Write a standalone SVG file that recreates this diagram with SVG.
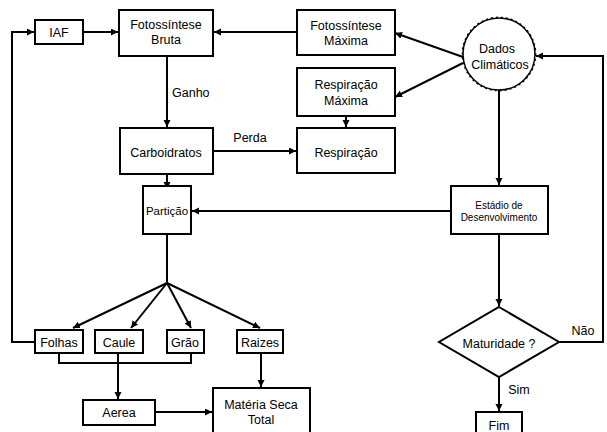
<svg xmlns="http://www.w3.org/2000/svg" width="607" height="432" viewBox="0 0 607 432">
<style>
.b{fill:#fff;stroke:#000;stroke-width:2}
.l{fill:none;stroke:#000;stroke-width:2}
.t{font-family:"Liberation Sans",Arial,sans-serif;font-size:12.5px;text-anchor:middle;fill:#000}
.s{font-size:10px}
.p{font-size:11.5px}
</style>
<defs>
<marker id="a" markerUnits="userSpaceOnUse" markerWidth="10" markerHeight="10" refX="7" refY="3.5" orient="auto">
<path d="M0,0 L7,3.5 L0,7 Z" fill="#000"/>
</marker>
</defs>
<g id="connectors">
<path class="l" d="M35,342 H12 V32 H34" marker-end="url(#a)"/>
<path class="l" d="M83,32 H118" marker-end="url(#a)"/>
<path class="l" d="M297,32 H214" marker-end="url(#a)"/>
<path class="l" d="M167,56 V127" marker-end="url(#a)"/>
<path class="l" d="M214,151 H296" marker-start="url(#a)" marker-end="url(#a)"/>
<path class="l" d="M167,174 V189" marker-end="url(#a)"/>
<path class="l" d="M346,116 V127" marker-end="url(#a)"/>
<path class="l" d="M463,57 L395,33" marker-end="url(#a)"/>
<path class="l" d="M463,63 L395,97" marker-end="url(#a)"/>
<path class="l" d="M499,90 V185" marker-end="url(#a)"/>
<path class="l" d="M451,211 H192" marker-end="url(#a)"/>
<path class="l" d="M167,234 V283"/>
<path class="l" d="M167,283 L73,328" marker-end="url(#a)"/>
<path class="l" d="M167,283 L131,328" marker-end="url(#a)"/>
<path class="l" d="M167,283 L191,328" marker-end="url(#a)"/>
<path class="l" d="M167,283 L260,328" marker-end="url(#a)"/>
<path class="l" d="M59,353 V363 H191 V353"/>
<path class="l" d="M118,353 V399" marker-end="url(#a)"/>
<path class="l" d="M261,353 V387" marker-end="url(#a)"/>
<path class="l" d="M155,412 H212" marker-end="url(#a)"/>
<path class="l" d="M499,234 V306" marker-end="url(#a)"/>
<path class="l" d="M559,342 H603 V56 H536" marker-end="url(#a)"/>
<path class="l" d="M499,377 V411" marker-end="url(#a)"/>
<text class="t" x="172" y="96.5" style="text-anchor:start">Ganho</text>
<text class="t" x="250" y="141.5">Perda</text>
<text class="t" x="583" y="334.5">Não</text>
<text class="t" x="519" y="393.5">Sim</text>
</g>
<g id="iaf"><rect class="b" x="35" y="20" width="48" height="24"/><text class="t" x="59" y="36.5">IAF</text></g>
<g id="fot-bruta"><rect class="b" x="119" y="10" width="94" height="46"/><text class="t" x="166" y="28.5">Fotossíntese</text><text class="t" x="166" y="43.5">Bruta</text></g>
<g id="fot-max"><rect class="b" x="297" y="10" width="98" height="45"/><text class="t" x="346" y="29.5">Fotossíntese</text><text class="t" x="346" y="44.5">Máxima</text></g>
<g id="dados">
<circle cx="499" cy="54" r="36" fill="#fff" stroke="#000" stroke-width="1.5"/>
<circle cx="499" cy="54" r="36.8" fill="none" stroke="#000" stroke-width="1.2" stroke-dasharray="2 3"/>
<text class="t" x="497" y="52.5">Dados</text><text class="t" x="500" y="68.5">Climáticos</text></g>
<g id="resp-max"><rect class="b" x="297" y="68" width="98" height="48"/><text class="t" x="346" y="88.5">Respiração</text><text class="t" x="346" y="104.5">Máxima</text></g>
<g id="carboidratos"><rect class="b" x="120" y="128" width="93" height="46"/><text class="t" x="166" y="156.5">Carboidratos</text></g>
<g id="respiracao"><rect class="b" x="297" y="128" width="98" height="45"/><text class="t" x="346" y="156.5">Respiração</text></g>
<g id="particao"><rect class="b" x="143" y="186" width="48" height="48"/><text class="t p" x="167" y="215">Partição</text></g>
<g id="estadio"><rect class="b" x="451" y="186" width="97" height="48"/><text class="t s" x="499" y="208.5">Estádio de</text><text class="t s" x="499" y="220.5">Desenvolvimento</text></g>
<g id="folhas"><rect class="b" x="35" y="330" width="48" height="23"/><text class="t" x="59" y="346.5">Folhas</text></g>
<g id="caule"><rect class="b" x="95" y="330" width="48" height="23"/><text class="t" x="119" y="346.5">Caule</text></g>
<g id="grao"><rect class="b" x="167" y="330" width="37" height="23"/><text class="t" x="185" y="346.5">Grão</text></g>
<g id="raizes"><rect class="b" x="237" y="330" width="46" height="23"/><text class="t" x="260" y="346.5">Raizes</text></g>
<g id="aerea"><rect class="b" x="83" y="400" width="72" height="25"/><text class="t" x="119" y="416.5">Aerea</text></g>
<g id="materia"><rect class="b" x="213" y="388" width="97" height="50"/><text class="t" x="261" y="408.5">Matéria Seca</text><text class="t" x="261" y="423.5">Total</text></g>
<g id="maturidade"><path class="b" d="M499,307 L559,342 L499,377 L439,342 Z"/><text class="t" x="499" y="347.5">Maturidade ?</text></g>
<g id="fim"><rect class="b" x="476" y="412" width="46" height="26"/><text class="t" x="499" y="429.5">Fim</text></g>
</svg>
